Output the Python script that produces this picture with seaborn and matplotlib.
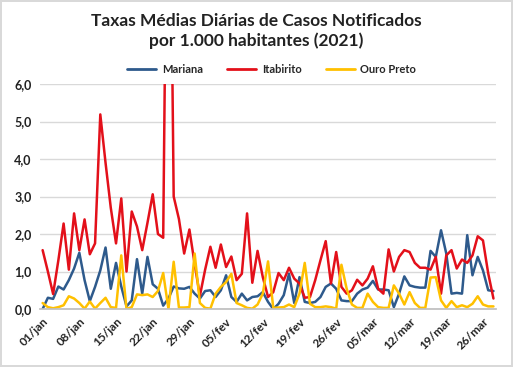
import numpy as np
import pandas as pd
import matplotlib
matplotlib.use("Agg")
import matplotlib.pyplot as plt
import seaborn as sns

# Taxas diarias por 1.000 habitantes, 01/jan a 28/mar de 2021
mariana = [0.0, 0.3, 0.27, 0.6, 0.52, 0.77, 1.08, 1.5, 0.77, 0.21,
           0.59, 1.03, 1.64, 0.54, 1.23, 0.6, 0.07, 0.23, 1.33, 0.41,
           1.39, 0.66, 0.54, 0.09, 0.28, 0.6, 0.55, 0.54, 0.59, 0.41,
           0.28, 0.48, 0.5, 0.32, 0.5, 0.9, 0.32, 0.19, 0.41, 0.23,
           0.32, 0.34, 0.45, 0.19, 0.0, 0.14, 0.37, 0.94, 0.16, 0.85,
           0.19, 0.16, 0.19, 0.32, 0.59, 0.68, 0.54, 0.23, 0.21, 0.21,
           0.41, 0.52, 0.57, 0.75, 0.52, 0.52, 0.5, 0.05, 0.41, 0.87,
           0.63, 0.59, 0.57, 0.57, 1.55, 1.39, 2.1, 1.48, 0.41, 0.43,
           0.41, 1.97, 0.9, 1.39, 1.03, 0.5, 0.48]
itabirito = [1.57, 1.0, 0.4, 1.3, 2.28, 1.05, 2.55, 1.57, 2.39, 1.46,
             1.75, 5.19, 3.9, 2.7, 1.75, 2.95, 1.0, 2.6, 2.2, 1.57,
             2.3, 3.06, 2.0, 1.9, 16.0, 3.0, 2.4, 1.48, 2.12, 1.2,
             0.35, 1.05, 1.66, 1.1, 1.72, 1.12, 1.4, 0.77, 0.94, 2.55,
             0.7, 1.55, 0.85, 0.32, 0.45, 0.96, 0.77, 1.1, 0.81, 0.68,
             0.3, 0.32, 0.77, 1.3, 1.81, 0.68, 1.52, 0.59, 0.41, 0.5,
             0.78, 0.63, 0.81, 1.14, 0.54, 0.41, 1.59, 1.0, 1.39, 1.57,
             1.52, 1.23, 1.1, 1.1, 1.05, 1.39, 0.41, 1.43, 1.57, 1.08,
             1.32, 1.23, 1.43, 1.94, 1.83, 0.95, 0.28]
ouro_preto = [0.16, 0.05, 0.02, 0.05, 0.1, 0.34, 0.28, 0.16, 0.01, 0.2,
              0.01, 0.16, 0.3, 0.05, 0.03, 1.43, 0.0, 0.05, 0.39, 0.37,
              0.39, 0.32, 0.48, 0.96, 0.0, 1.26, 0.04, 0.04, 0.05, 1.48,
              0.16, 0.03, 0.01, 0.41, 0.59, 0.72, 0.94, 0.16, 0.1, 0.03,
              0.01, 0.12, 0.41, 1.27, 0.03, 0.04, 0.05, 0.12, 0.05, 0.41,
              1.23, 0.14, 0.05, 0.05, 0.07, 0.05, 0.01, 1.18, 0.54, 0.12,
              0.03, 0.03, 0.41, 0.19, 0.05, 0.03, 0.03, 0.63, 0.41, 0.12,
              0.45, 0.16, 0.03, 0.03, 0.84, 0.85, 0.23, 0.03, 0.21, 0.05,
              0.1, 0.05, 0.14, 0.34, 0.12, 0.07, 0.07]

tick_labels = ["01/jan", "08/jan", "15/jan", "22/jan", "29/jan", "05/fev",
               "12/fev", "19/fev", "26/fev", "05/mar", "12/mar", "19/mar",
               "26/mar"]
y_labels = ["0,0", "1,0", "2,0", "3,0", "4,0", "5,0", "6,0"]

cores = {"Mariana": "#2E5A8C", "Itabirito": "#E3101A", "Ouro Preto": "#FFC000"}

# formato longo para o seaborn
n = len(mariana)
df = pd.DataFrame({
    "dia": list(range(n)) * 3,
    "taxa": mariana + itabirito + ouro_preto,
    "cidade": ["Mariana"] * n + ["Itabirito"] * n + ["Ouro Preto"] * n,
})

sns.set_theme(style="white")
plt.rcParams["font.family"] = ["Lato", "DejaVu Sans"]

fig = plt.figure(figsize=(5.13, 3.67), dpi=100)
fig.patch.set_edgecolor("#D9D9D9")
fig.patch.set_linewidth(1.5)
ax = fig.add_axes([0.078, 0.158, 0.889, 0.613])

sns.lineplot(data=df, x="dia", y="taxa", hue="cidade", palette=cores,
             linewidth=1.8, ax=ax, legend=False)

ax.set_xlim(-0.5, n - 0.5)
ax.set_ylim(0, 6)
ax.set_yticks(range(7))
ax.set_yticklabels(y_labels, fontsize=9, fontweight="bold", color="#222222")
ax.set_xticks(range(0, n, 7))
ax.set_xticklabels(tick_labels, rotation=45, ha="right", rotation_mode="anchor",
                   fontsize=8.5, fontweight="bold", color="#222222")
ax.tick_params(axis="x", length=3, color="#BFBFBF", pad=2)
ax.tick_params(axis="y", length=0, pad=6)
ax.set_xlabel("")
ax.set_ylabel("")
ax.grid(axis="y", color="#D9D9D9", linewidth=1)
for s in ["left", "right", "top"]:
    ax.spines[s].set_visible(False)
ax.spines["bottom"].set_color("#BFBFBF")

handles = [plt.Line2D([], [], color=c, linewidth=2) for c in cores.values()]
fig.legend(handles, list(cores.keys()), loc="center", bbox_to_anchor=(0.53, 0.81),
           ncol=3, frameon=False, prop={"weight": "bold", "size": 8},
           handlelength=2.6, columnspacing=2.2, handletextpad=0.5)

fig.suptitle("Taxas Médias Diárias de Casos Notificados\npor 1.000 habitantes (2021)",
             y=0.965, fontsize=12.5, fontweight="bold", color="#222222", linespacing=1.3)

fig.savefig("out.png", dpi=100)
